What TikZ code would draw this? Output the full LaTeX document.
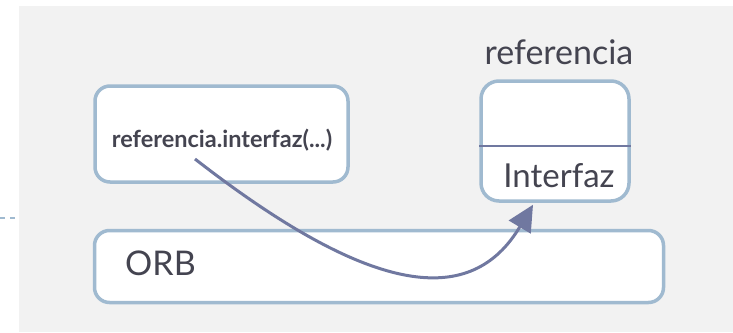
\documentclass[tikz,border=0pt]{standalone}
\usepackage{fontspec}
\setmainfont{Lato}
\usetikzlibrary{arrows.meta}
\definecolor{fondo}{RGB}{242,242,242}
\definecolor{borde}{RGB}{160,186,208}
\definecolor{flecha}{RGB}{112,120,160}
\definecolor{letra}{RGB}{68,68,80}
\begin{document}
\begin{tikzpicture}[x=1pt, y=-1pt,
  caja/.style={draw=borde, line width=3.5pt, fill=white, rounded corners=15pt, inner sep=0},
  texto/.style={text=letra, inner sep=0}]
\useasboundingbox (0,0) rectangle (733,332);
\fill[fondo] (19,6) rectangle (733,332);
\draw[borde, line width=1.5pt, dash pattern=on 5pt off 5pt] (0,218) -- (19,218);

\node[caja, minimum width=253pt, minimum height=96pt] (cliente) at (221.5,134) {};
\node[caja, minimum width=569pt, minimum height=72pt] (orb) at (379,266.5) {};
\node[caja, minimum width=148pt, minimum height=120pt, rounded corners=18pt] (ref) at (555,141) {};
\draw[flecha, line width=1.2pt] (ref.west |- 0,146) -- (ref.east |- 0,146);

\node[texto, anchor=base, font=\fontsize{23.5}{28}\selectfont\bfseries] (llamada) at (222,147) {referencia.interfaz(...)};
\node[texto, anchor=base west, font=\fontsize{34}{40}\selectfont] (nombre) at (125,275) {ORB};
\node[texto, anchor=base, font=\fontsize{33}{40}\selectfont] (interfaz) at (559,187) {Interfaz};
\node[texto, anchor=base, font=\fontsize{34}{40}\selectfont] (etiqueta) at (559,64) {referencia};

\coordinate (inicio) at (195,159);
\draw[flecha, line width=3pt, -{Triangle[length=26pt, width=25pt]}] (inicio) .. controls (375,299) and (472,307) .. ([xshift=-22pt, yshift=-2pt]ref.south);
\end{tikzpicture}
\end{document}
